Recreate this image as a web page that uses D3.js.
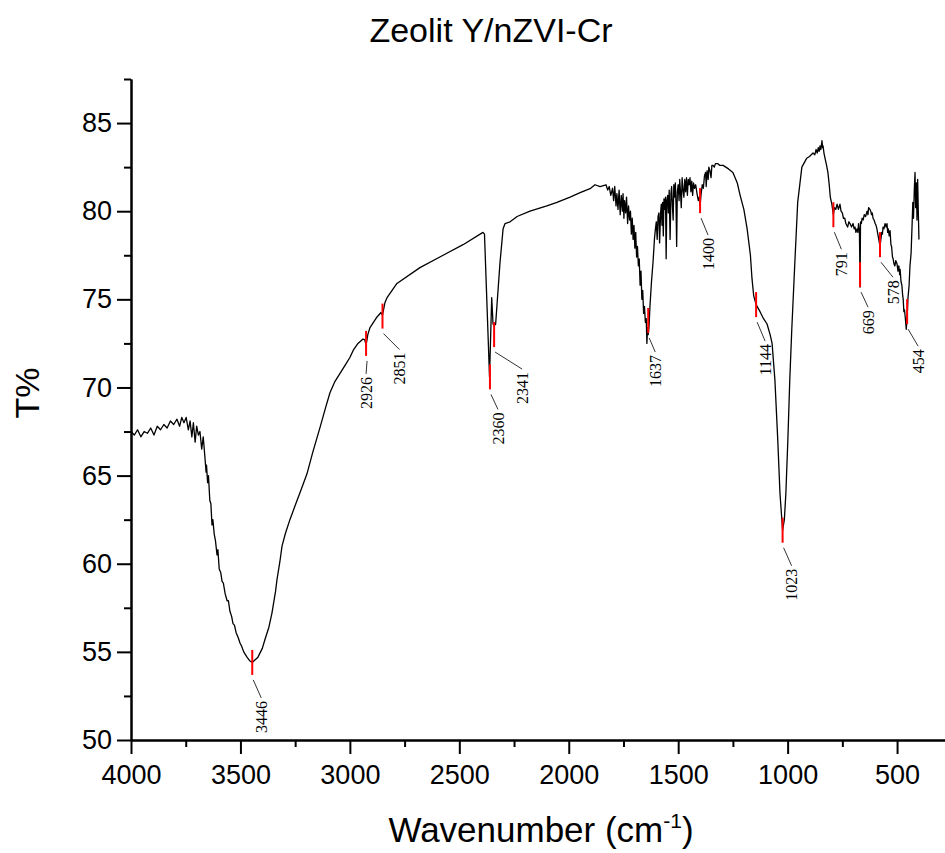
<!DOCTYPE html>
<html>
<head>
<meta charset="utf-8">
<script src="https://d3js.org/d3.v7.min.js"></script>
<style>
  body { margin: 0; background: #fff; }
  .axis path, .axis line { stroke: #000; stroke-width: 2px; }
  .axis text { font-family: "Liberation Sans", Arial, sans-serif; font-size: 27px; fill: #000; }
</style>
</head>
<body>
<div id="chart"></div>
<script>
// spectrum: wavenumber (cm-1) and T%
var wavenumber = [
  4000, 3985, 3970, 3955, 3940, 3925, 3910, 3895, 3880, 3865,
  3850, 3835, 3820, 3805, 3790, 3778, 3768, 3758, 3748, 3738,
  3730, 3722, 3715, 3707, 3700, 3692, 3685, 3677, 3670, 3662,
  3657, 3655, 3650, 3646, 3640, 3635, 3630, 3626, 3620, 3614,
  3607, 3603, 3597, 3590, 3584, 3578, 3570, 3561, 3555, 3548,
  3540, 3534, 3527, 3520, 3510, 3502, 3494, 3485, 3470, 3458,
  3446, 3420, 3400, 3388, 3370, 3356, 3340, 3333, 3320, 3310,
  3295, 3274, 3250, 3220, 3196, 3170, 3136, 3110, 3091, 3070,
  3045, 3020, 3000, 2985, 2963, 2940, 2932, 2926, 2918, 2908,
  2876, 2858, 2851, 2840, 2830, 2785, 2680, 2574, 2483, 2392,
  2385, 2362, 2352, 2346, 2341, 2334, 2314, 2300, 2291, 2268,
  2236, 2177, 2100, 2054, 1994, 1948, 1900, 1880, 1857, 1830,
  1822, 1815, 1808, 1800, 1795, 1790, 1784, 1780, 1775, 1770,
  1765, 1760, 1755, 1752, 1748, 1745, 1740, 1736, 1731, 1727,
  1722, 1718, 1714, 1710, 1706, 1702, 1698, 1694, 1690, 1686,
  1682, 1678, 1674, 1670, 1666, 1662, 1658, 1654, 1650, 1646,
  1643, 1640, 1637, 1633, 1629, 1622, 1615, 1608, 1604, 1600,
  1596, 1592, 1588, 1585, 1580, 1577, 1574, 1571, 1568, 1565,
  1562, 1558, 1555, 1552, 1548, 1545, 1541, 1537, 1533, 1530,
  1526, 1523, 1520, 1517, 1513, 1510, 1507, 1504, 1500, 1496,
  1493, 1489, 1486, 1482, 1478, 1474, 1470, 1466, 1462, 1458,
  1454, 1450, 1446, 1442, 1438, 1434, 1430, 1425, 1420, 1414,
  1408, 1404, 1400, 1396, 1390, 1385, 1380, 1375, 1372, 1368,
  1363, 1360, 1355, 1350, 1346, 1341, 1335, 1330, 1320, 1310,
  1295, 1270, 1250, 1230, 1217, 1200, 1185, 1170, 1163, 1155,
  1144, 1135, 1126, 1110, 1094, 1080, 1071, 1058, 1045, 1035,
  1023, 1015, 1008, 999, 990, 981, 967, 954, 935, 913,
  900, 884, 876, 870, 865, 860, 856, 852, 848, 845,
  843, 840, 838, 834, 829, 822, 816, 810, 805, 798,
  791, 786, 780, 774, 768, 761, 756, 750, 745, 739,
  734, 730, 726, 720, 715, 708, 701, 696, 692, 688,
  683, 679, 676, 672, 669, 667, 663, 660, 655, 650,
  644, 637, 633, 630, 624, 620, 617, 613, 610, 605,
  600, 596, 592, 588, 585, 578, 574, 570, 567, 564,
  560, 555, 550, 546, 543, 540, 536, 532, 528, 525,
  521, 518, 514, 510, 506, 500, 496, 492, 488, 486,
  482, 478, 475, 472, 469, 466, 462, 458, 454, 450,
  445, 441, 436, 432, 428, 425, 421, 418, 415, 412,
  409, 406, 403, 400
];
var transmittance = [
  67.5, 67.3, 67.6, 67.2, 67.5, 67.4, 67.7, 67.3, 67.8, 67.6,
  67.9, 67.7, 68.1, 67.9, 68.2, 67.8, 68.3, 68.0, 68.3, 67.6,
  68.1, 67.2, 68.0, 66.9, 67.8, 67.3, 67.5, 66.5, 67.2, 66.0,
  65.2, 65.6, 64.6, 65.0, 63.6, 63.4, 62.2, 62.5, 61.7, 61.3,
  60.5, 60.8, 59.7, 59.5, 59.0, 58.9, 58.3, 57.9, 57.9, 57.3,
  57.0, 56.6, 56.5, 56.1, 55.8, 55.5, 55.3, 55.0, 54.7, 54.5,
  54.4, 54.7, 55.2, 55.7, 56.4, 57.2, 58.4, 59.1, 60.1, 61.0,
  61.7, 62.5, 63.3, 64.3, 65.1, 66.3, 67.75, 68.9, 69.7, 70.3,
  70.8, 71.3, 71.7, 72.1, 72.5, 72.75, 72.7, 72.4, 73.0, 73.4,
  74.0, 74.25, 74.1, 74.8, 75.1, 75.9, 76.8, 77.5, 78.1, 78.8,
  78.7, 70.6, 75.1, 73.6, 73.5, 73.6, 77.1, 79.0, 79.3, 79.4,
  79.7, 80.0, 80.3, 80.5, 80.8, 81.05, 81.3, 81.5, 81.4, 81.5,
  81.2, 81.4, 80.9, 81.3, 80.6, 81.4, 80.3, 81.0, 80.1, 81.2,
  79.8, 80.9, 80.0, 81.0, 79.6, 80.6, 79.9, 80.8, 79.3, 80.3,
  79.5, 80.0, 78.7, 79.6, 78.4, 79.2, 77.9, 78.8, 77.4, 78.0,
  76.9, 77.3, 75.8, 76.6, 75.0, 75.5, 74.2, 74.6, 73.7, 73.9,
  72.5, 73.4, 73.0, 73.5, 74.6, 76.0, 77.1, 78.5, 79.0, 79.4,
  78.4, 79.7, 79.9, 78.2, 80.0, 80.4, 79.2, 80.5, 78.6, 80.7,
  80.1, 80.8, 77.3, 80.6, 80.9, 79.9, 81.2, 78.4, 81.0, 81.4,
  80.2, 79.5, 81.5, 80.8, 81.6, 80.4, 78.0, 81.1, 81.5, 80.6,
  81.8, 81.0, 80.2, 81.9, 81.2, 80.8, 81.8, 81.1, 81.9, 80.9,
  81.8, 81.5, 81.9, 81.1, 81.7, 80.9, 81.6, 81.3, 81.5, 81.0,
  80.6, 80.8, 80.3, 80.9, 81.5, 81.3, 82.0, 82.2, 81.4, 82.3,
  81.8, 82.5, 82.3, 81.9, 82.6, 82.6, 82.5, 82.7, 82.7, 82.6,
  82.6, 82.4, 82.2, 81.6, 80.9, 80.1, 79.0, 77.5, 76.2, 75.2,
  74.7, 74.5, 74.3, 73.9, 73.6, 73.0, 72.5, 70.4, 67.0, 64.0,
  61.9, 62.5, 64.0, 67.0, 70.5, 73.3, 77.1, 80.5, 82.5, 83.0,
  83.1, 83.3, 83.2, 83.5, 83.3, 83.6, 83.4, 83.7, 83.5, 83.8,
  84.0, 83.6, 83.7, 83.3, 83.0, 82.6, 82.2, 81.5, 80.8, 80.4,
  79.8, 80.2, 80.1, 80.4, 80.1, 80.4, 80.0, 79.9, 79.6, 79.6,
  79.3, 79.2, 79.1, 79.4, 79.3, 79.1, 79.3, 79.0, 79.1, 78.8,
  79.0, 78.8, 79.3, 78.9, 75.7, 79.4, 79.3, 79.6, 79.5, 79.8,
  79.7, 80.0, 79.8, 80.2, 80.1, 80.0, 79.8, 79.9, 79.6, 79.5,
  79.3, 79.2, 79.0, 78.7, 78.5, 78.0, 78.4, 78.8, 78.7, 79.1,
  79.0, 79.3, 79.1, 79.3, 78.8, 79.0, 78.6, 78.9, 78.1, 78.0,
  77.4, 77.3, 77.0, 76.9, 77.2, 77.0, 76.6, 76.9, 76.4, 76.7,
  76.0, 75.8, 75.3, 75.0, 74.3, 74.4, 73.9, 73.3, 74.0, 75.1,
  75.8, 76.9, 77.6, 79.0, 80.5, 79.6, 81.3, 82.2, 80.2, 81.6,
  79.5, 81.8, 80.0, 78.4
];

// marked peaks and T% at the marker
var peakWn = [3446, 2926, 2851, 2360, 2341, 1637, 1400, 1144, 1023, 791, 669, 578, 454];
var peakT  = [54.4, 72.5, 74.05, 70.6, 73.0, 73.8, 80.6, 74.7, 61.9, 79.8, 76.4, 78.1, 74.3];

var xMajor = [4000, 3500, 3000, 2500, 2000, 1500, 1000, 500];
var xMinor = [3750, 3250, 2750, 2250, 1750, 1250, 750];
var yMajor = [50, 55, 60, 65, 70, 75, 80, 85];
var yMinor = [52.5, 57.5, 62.5, 67.5, 72.5, 77.5, 82.5, 87.5];

// label placement (layout only): x shift of label and gap below the red marker
var labelDx  = [9, 0, 17, 8, 28, 7, 8, 9, 9, 8, 8, 13, 11];
var labelGap = [26, 21, 24, 23, 25, 22, 25, 27, 26, 25, 23, 23, 25];

var chartW = 945, chartH = 853;
var padL = 131, padB = 740, padT = 79;

var svg = d3.select('#chart').append('svg')
  .attr('width', chartW).attr('height', chartH);

var x = d3.scaleLinear().domain([4000, 281]).range([padL, chartW]);
var y = d3.scaleLinear().domain([50, 87.5]).range([padB, padT]);

// axes: major + minor ticks, outward
svg.append('g').attr('class', 'axis')
  .attr('transform', 'translate(0,' + padB + ')')
  .call(d3.axisBottom(x).tickValues(xMajor).tickFormat(d3.format('d'))
    .tickSize(14).tickSizeOuter(0).tickPadding(11));
svg.append('g').attr('class', 'axis')
  .attr('transform', 'translate(0,' + padB + ')')
  .call(d3.axisBottom(x).tickValues(xMinor).tickSize(7).tickSizeOuter(0).tickFormat(''));
svg.append('g').attr('class', 'axis')
  .attr('transform', 'translate(' + padL + ',0)')
  .call(d3.axisLeft(y).tickValues(yMajor).tickFormat(d3.format('d'))
    .tickSize(14).tickSizeOuter(0).tickPadding(5));
svg.append('g').attr('class', 'axis')
  .attr('transform', 'translate(' + padL + ',0)')
  .call(d3.axisLeft(y).tickValues(yMinor).tickSize(7).tickSizeOuter(0).tickFormat(''));

// spectrum
var line = d3.line()
  .x(function(d, i) { return x(wavenumber[i]); })
  .y(function(d, i) { return y(transmittance[i]); });

svg.append('path')
  .attr('d', line(wavenumber))
  .attr('fill', 'none')
  .attr('stroke', '#000')
  .attr('stroke-width', 1.3)
  .attr('stroke-linejoin', 'round');

// peak markers, leaders and labels
var half = 12.5;
var peaks = svg.append('g').selectAll('g')
  .data(peakWn)
  .enter().append('g');

peaks.append('line')
  .attr('x1', function(d) { return x(d); })
  .attr('x2', function(d) { return x(d); })
  .attr('y1', function(d, i) { return y(peakT[i]) - half; })
  .attr('y2', function(d, i) { return y(peakT[i]) + half; })
  .attr('stroke', '#ff0000')
  .attr('stroke-width', 2);

peaks.append('line')
  .attr('x1', function(d) { return x(d) + 1; })
  .attr('y1', function(d, i) { return y(peakT[i]) + half + 5; })
  .attr('x2', function(d, i) { return x(d) + labelDx[i]; })
  .attr('y2', function(d, i) { return y(peakT[i]) + half + labelGap[i] - 3; })
  .attr('stroke', '#333')
  .attr('stroke-width', 1);

peaks.append('text')
  .text(function(d) { return d; })
  .attr('transform', function(d, i) {
    return 'translate(' + (x(d) + labelDx[i]) + ',' + (y(peakT[i]) + half + labelGap[i]) + ') rotate(-90)';
  })
  .attr('dy', '0.35em')
  .attr('text-anchor', 'end')
  .attr('font-family', '"Liberation Serif", "Times New Roman", serif')
  .attr('font-size', 16)
  .attr('fill', '#000');

// titles
svg.append('text')
  .attr('x', 491).attr('y', 42)
  .attr('text-anchor', 'middle')
  .attr('font-family', '"Liberation Sans", Arial, sans-serif')
  .attr('font-size', 34)
  .text('Zeolit Y/nZVI-Cr');

svg.append('text')
  .attr('transform', 'translate(39,393) rotate(-90)')
  .attr('text-anchor', 'middle')
  .attr('font-family', '"Liberation Sans", Arial, sans-serif')
  .attr('font-size', 34)
  .text('T%');

var xt = svg.append('text')
  .attr('x', 541).attr('y', 842)
  .attr('text-anchor', 'middle')
  .attr('font-family', '"Liberation Sans", Arial, sans-serif')
  .attr('font-size', 35);
xt.append('tspan').text('Wavenumber (cm');
xt.append('tspan').attr('font-size', 21).attr('dy', -14).text('-1');
xt.append('tspan').attr('dy', 14).text(')');
</script>
</body>
</html>
